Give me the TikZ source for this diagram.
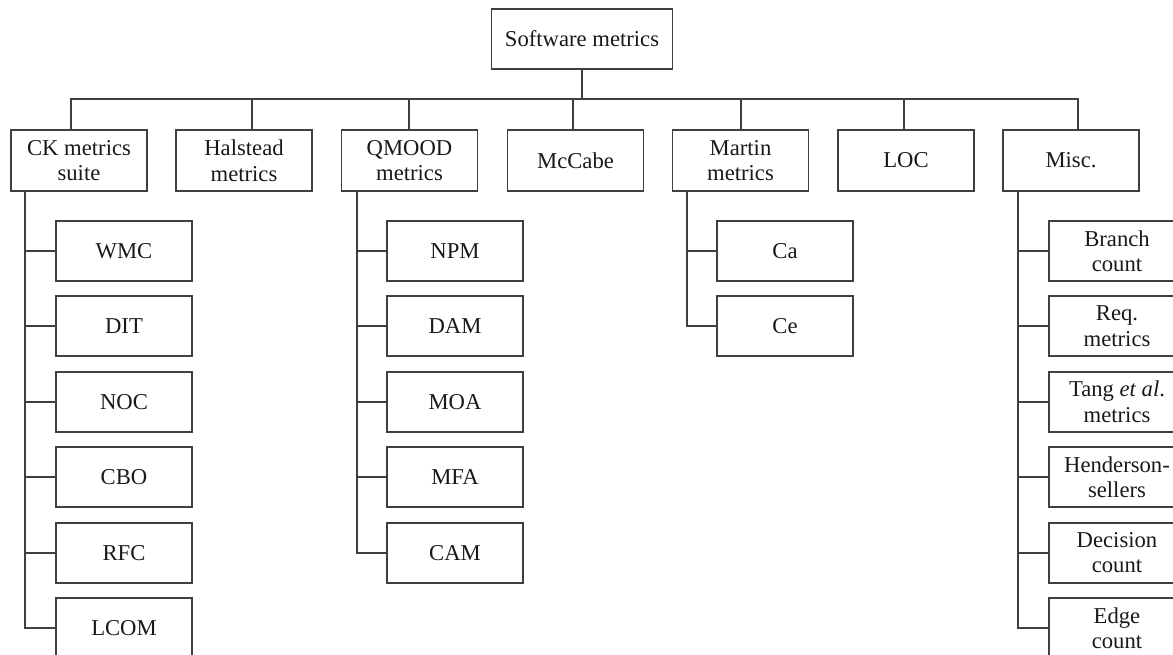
\documentclass[tikz,border=0pt]{standalone}
\usepackage{fontspec}
\setmainfont{Liberation Serif}
\usepackage{tikz}
\usetikzlibrary{calc}

\begin{document}
\begin{tikzpicture}[x=0.02cm, y=-0.02cm,
    every node/.style={font=\fontsize{12.9}{14.5}\selectfont, text=black!90},
    box/.style={draw=black!75, line width=1.1pt, inner sep=0pt, align=center,
        minimum width=2.72cm, minimum height=1.22cm},
    leaf/.style={box, minimum height=1.2cm},
    link/.style={draw=black!75, line width=1.1pt}]
        % Frame (boxes at the right and bottom run off the page)
        \clip (0,0) rectangle (1173,654);

        % Root
        \node[box, minimum width=3.62cm, minimum height=1.2cm] (root) at (582,39) {Software metrics};

        % First level
        \node[box] (ck) at (79,160.5) {CK metrics\\suite};
        \node[box] (halstead) at (244,160.5) {Halstead\\metrics};
        \node[box] (qmood) at (409.5,160.5) {QMOOD\\metrics};
        \node[box] (mccabe) at (575.5,160.5) {McCabe};
        \node[box] (martin) at (740.5,160.5) {Martin\\metrics};
        \node[box] (loc) at (906,160.5) {LOC};
        \node[box] (misc) at (1071,160.5) {Misc.};

        % Bus under the root (stems sit a little off centre)
        \coordinate (bus) at (582,99);
        \draw[link] (root.south) -- (root.south |- bus);
        \draw[link] ([xshift=-8*0.02cm]ck.north) |- ([xshift=7*0.02cm]misc.north |- bus) -- ([xshift=7*0.02cm]misc.north);
        \foreach \n/\dx in {halstead/8,qmood/-0.5,mccabe/-2.5,martin/0.5,loc/-2}
            \draw[link] ([xshift=\dx*0.02cm]\n.north) -- ([xshift=\dx*0.02cm]\n.north |- bus);

        % CK metrics suite
        \foreach \lab [count=\i] in {WMC,DIT,NOC,CBO,RFC,LCOM}
            \node[leaf] (ck\i) at (124,{251+75.4*(\i-1)}) {\lab};
        \coordinate (ckrail) at ($(ck.south west)+(15,0)$);
        \draw[link] (ckrail) |- (ck6.west);
        \foreach \i in {1,...,5}
            \draw[link] (ck\i.west) -- (ck\i.west -| ckrail);

        % QMOOD metrics
        \foreach \lab [count=\i] in {NPM,DAM,MOA,MFA,CAM}
            \node[leaf] (qm\i) at (455,{251+75.4*(\i-1)}) {\lab};
        \coordinate (qmrail) at ($(qmood.south west)+(16,0)$);
        \draw[link] (qmrail) |- (qm5.west);
        \foreach \i in {1,...,4}
            \draw[link] (qm\i.west) -- (qm\i.west -| qmrail);

        % Martin metrics
        \node[leaf] (ma1) at (785,251) {Ca};
        \node[leaf] (ma2) at (785,326.4) {Ce};
        \coordinate (marail) at ($(martin.south west)+(15,0)$);
        \draw[link] (marail) |- (ma2.west);
        \draw[link] (ma1.west) -- (ma1.west -| marail);

        % Misc.
        \foreach \lab [count=\i] in {Branch\\count, Req.\\metrics, Tang \textit{et al}.\\metrics,
                Henderson-\\sellers, Decision\\count, Edge\\count}
            \node[leaf] (mi\i) at (1117,{251+75.4*(\i-1)}) {\lab};
        \coordinate (mirail) at ($(misc.south west)+(16,0)$);
        \draw[link] (mirail) |- (mi6.west);
        \foreach \i in {1,...,5}
            \draw[link] (mi\i.west) -- (mi\i.west -| mirail);
    \end{tikzpicture}
\end{document}
